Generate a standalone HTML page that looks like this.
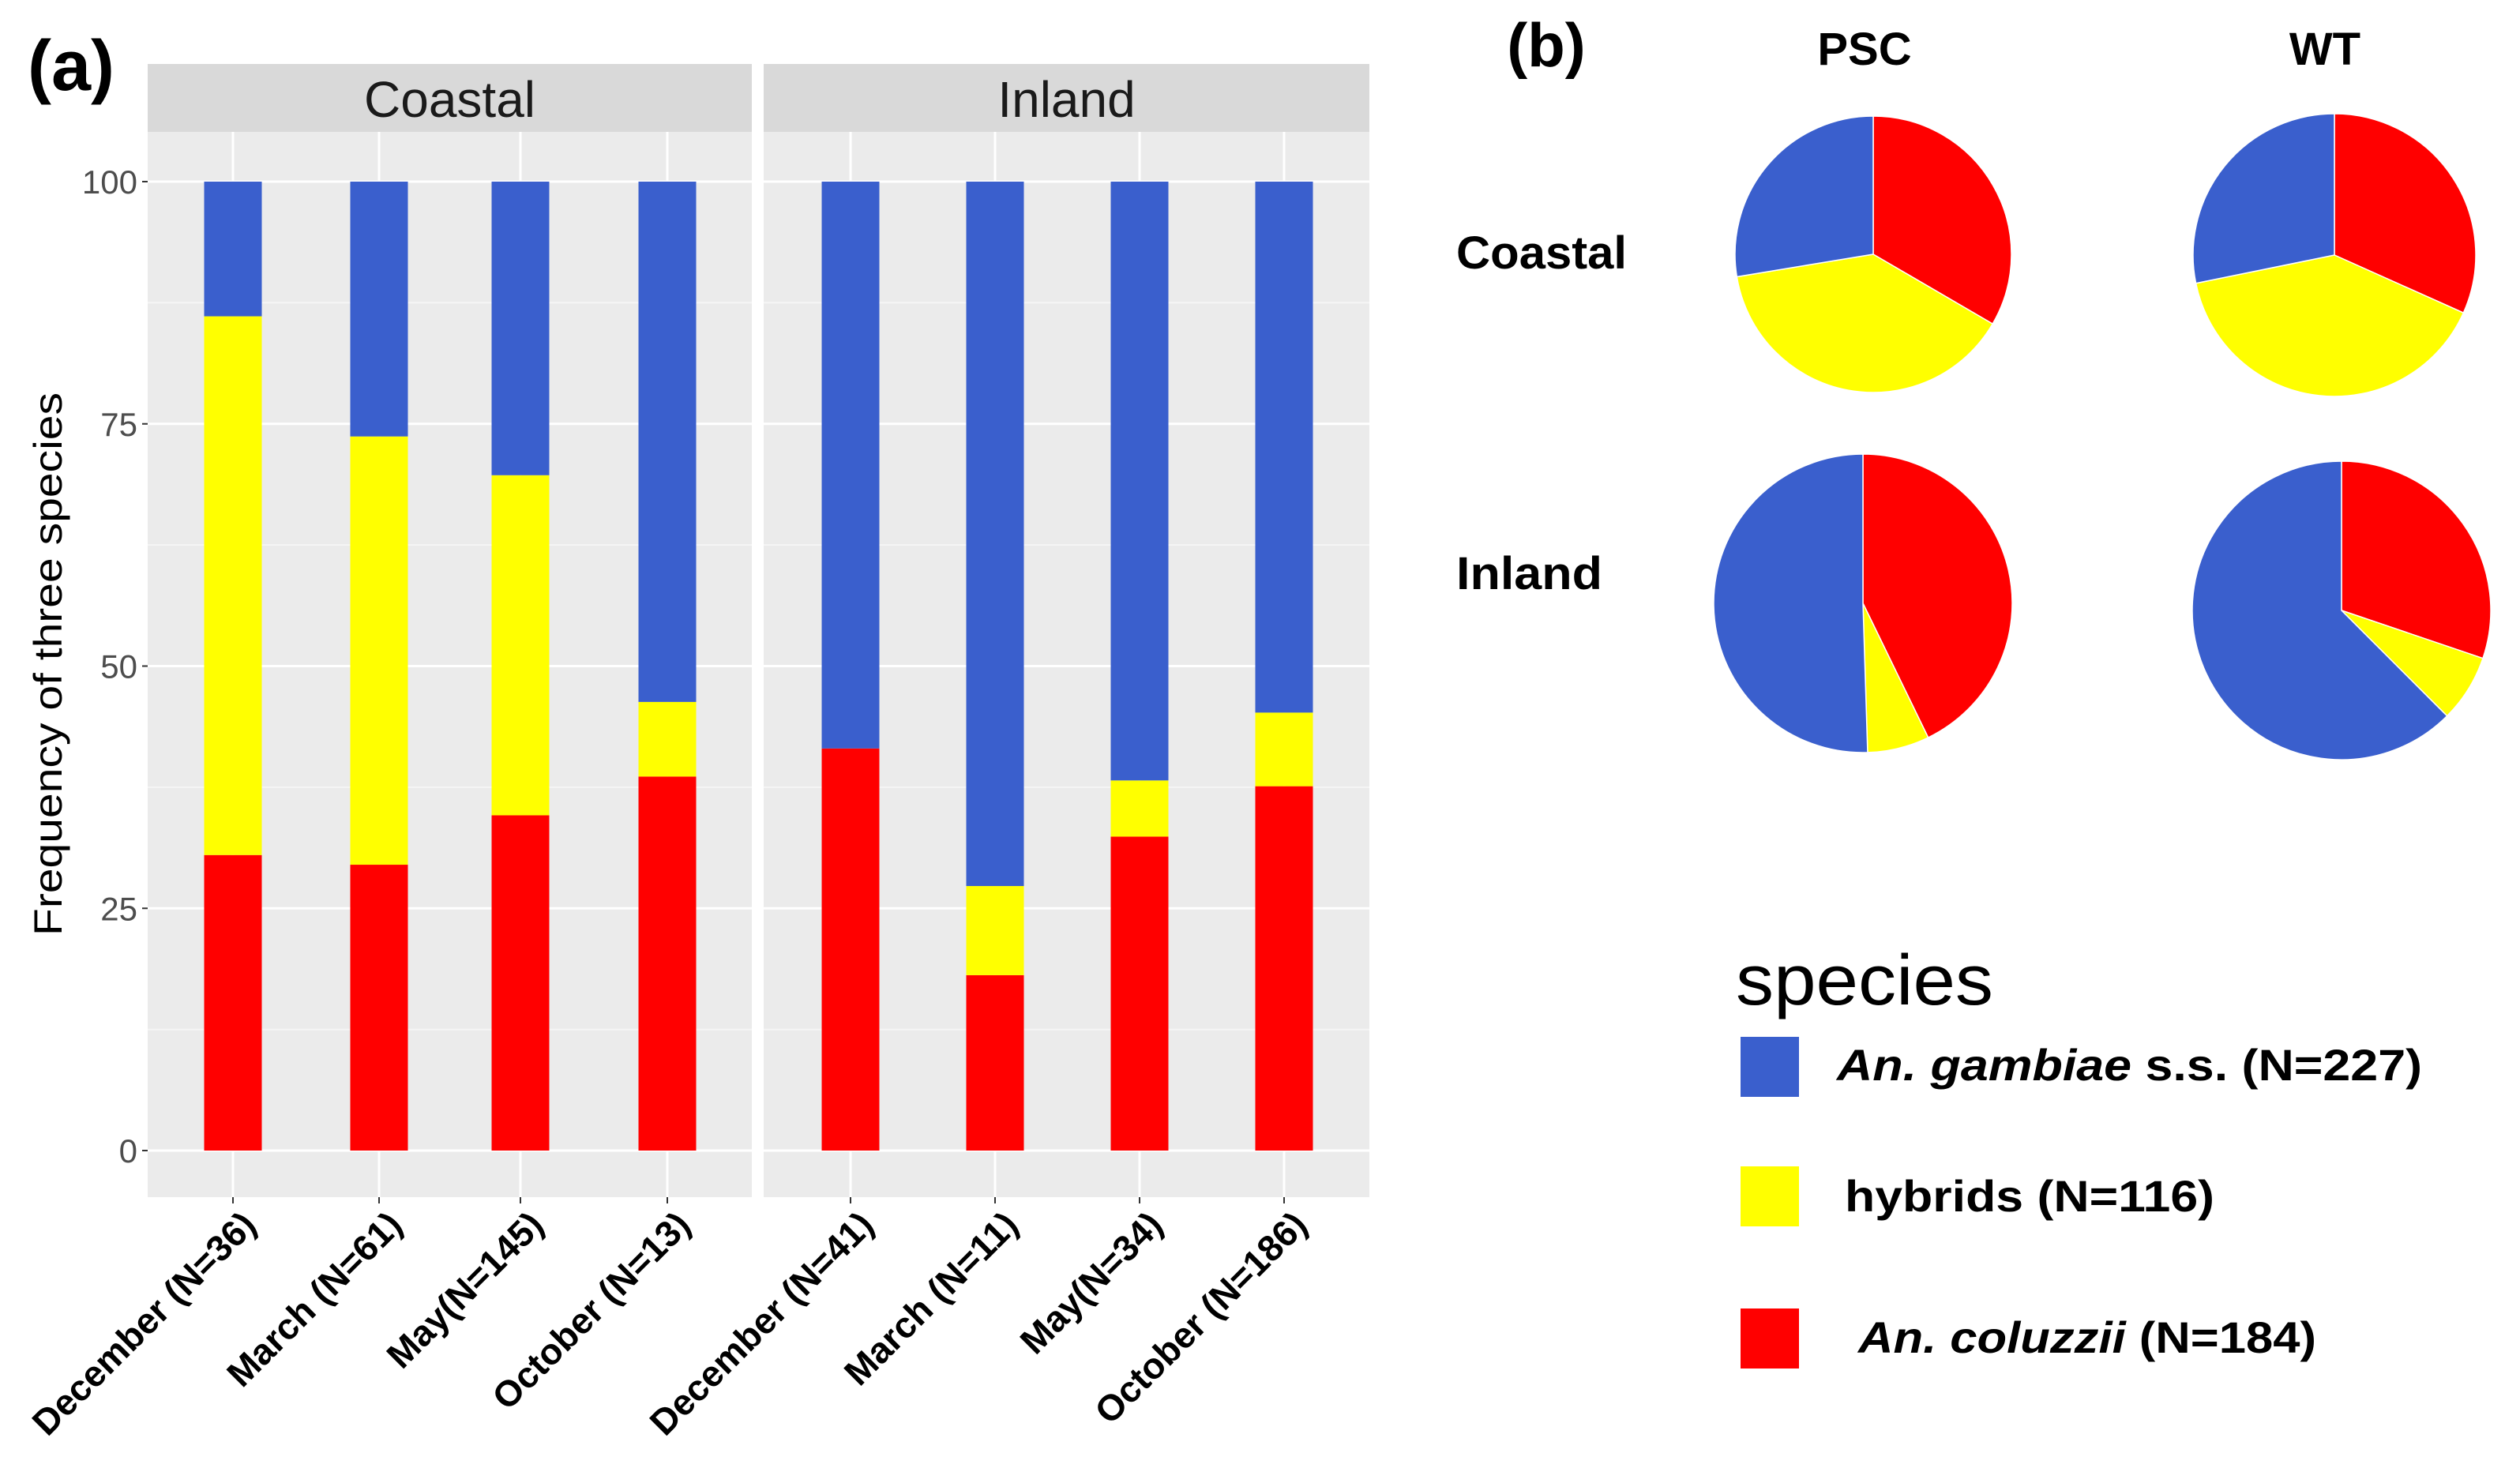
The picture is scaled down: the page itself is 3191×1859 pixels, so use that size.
<!DOCTYPE html>
<html><head><meta charset="utf-8"><style>
html,body{margin:0;padding:0;background:#fff;}
svg{display:block;font-family:"Liberation Sans",sans-serif;}
</style></head><body>
<svg id="fig" width="3191" height="1859" viewBox="0 0 3191 1859" xmlns="http://www.w3.org/2000/svg">
<g id="panelA"></g>
<g id="panelB"></g>
</svg>
<script>
const facets = ["Coastal", "Inland"];
const categories = ["December (N=36)", "March (N=61)", "May(N=145)", "October (N=13)", "December (N=41)", "March (N=11)", "May(N=34)", "October (N=186)"];
const coluzziiPct = [30.5, 29.5, 34.6, 38.6, 41.5, 18.1, 32.4, 37.6];
const hybridPct = [55.6, 44.2, 35.1, 7.7, 0, 9.2, 5.8, 7.6];
const gambiaePct = [13.9, 26.3, 30.3, 53.7, 58.5, 72.7, 61.8, 54.8];
const yTicks = [0, 25, 50, 75, 100];
const pieRows = ["Coastal", "Inland"];
const pieCols = ["PSC", "WT"];
const pieColuzzii = [33.4, 31.7, 42.8, 30.2];
const pieHybrid = [39.0, 40.1, 6.7, 7.3];
const pieGambiae = [27.6, 28.2, 50.5, 62.5];
const legendLabels = ["gambiae", "hybrids", "coluzzii"];

const NS = "http://www.w3.org/2000/svg";
const COL = {blue: "#3a5fcd", yellow: "#ffff00", red: "#ff0000"};
function mk(parent, tag, attrs, text) {
  const e = document.createElementNS(NS, tag);
  for (const k in attrs) e.setAttribute(k, attrs[k]);
  if (text !== undefined) e.textContent = text;
  parent.appendChild(e);
  return e;
}
const A = document.getElementById("panelA");
const B = document.getElementById("panelB");

const yTop = 230, yBot = 1457;
function yScale(v) { return yBot - (yBot - yTop) * v / 100; }
const panels = [{x0: 187, x1: 952, centers: [295, 480, 659, 845]}, {x0: 967, x1: 1734, centers: [1077, 1260, 1443, 1626]}];
function xScale(i) { return panels[Math.floor(i / 4)].centers[i % 4]; }
const barW = 73;

let t = mk(A, "text", {x: 35, y: 114, "font-size": 90, "font-weight": "bold", fill: "#000"}, "(a)");



panels.forEach((p, fi) => {
  const bg = mk(A, "rect", {x: p.x0, y: 167, width: p.x1 - p.x0, height: 1516 - 167, fill: "#ebebeb"});
  
  
  const st = mk(A, "rect", {x: p.x0, y: 81, width: p.x1 - p.x0, height: 86, fill: "#d9d9d9"});
  
  
  const stt = mk(A, "text", {x: (p.x0 + p.x1) / 2, y: 148, "font-size": 64, "text-anchor": "middle", fill: "#1a1a1a"}, facets[fi]);
  
  
  for (let k = 0; k < yTicks.length - 1; k++) {
    const v = (yTicks[k] + yTicks[k + 1]) / 2;
    const g = mk(A, "line", {x1: p.x0, x2: p.x1, y1: yScale(v), y2: yScale(v), stroke: "#f5f5f5", "stroke-width": 2});
    
    
  }
  yTicks.forEach(v => {
    const g = mk(A, "line", {x1: p.x0, x2: p.x1, y1: yScale(v), y2: yScale(v), stroke: "#fff", "stroke-width": 3});
    
    
  });
  p.centers.forEach((c, ci) => {
    const g = mk(A, "line", {x1: c, x2: c, y1: 167, y2: 1516, stroke: "#fff", "stroke-width": 3});
    
    
  });
});

yTicks.forEach(v => {
  const tk = mk(A, "line", {x1: 180, x2: 187, y1: yScale(v), y2: yScale(v), stroke: "#333", "stroke-width": 2});
  
  
  const tl = mk(A, "text", {x: 174, y: yScale(v) + 15, "font-size": 42, "text-anchor": "end", fill: "#4d4d4d"}, String(v));
  
  
});
const yt = mk(A, "text", {x: 0, y: 0, "font-size": 50, "text-anchor": "middle", fill: "#000", transform: "translate(78,841) rotate(-90)", textLength: 688, lengthAdjust: "spacingAndGlyphs"}, "Frequency of three species");



categories.forEach((cat, i) => {
  const cx = xScale(i);
  const segs = [[coluzziiPct[i], COL.red, 'coluzzii'], [hybridPct[i], COL.yellow, 'hybrids'], [gambiaePct[i], COL.blue, 'gambiae']];
  let base = 0;
  segs.forEach(s => {
    if (s[0] > 0) {
      const r = mk(A, "rect", {x: cx - barW / 2, y: yScale(base + s[0]), width: barW, height: yScale(base) - yScale(base + s[0]), fill: s[1]});
      
      
    }
    base += s[0];
  });
  const tk = mk(A, "line", {x1: cx, x2: cx, y1: 1516, y2: 1524, stroke: "#333", "stroke-width": 2});
  
  
  const lx = cx + 8, ly = 1530;
  const tl = mk(A, "text", {x: lx, y: ly, "font-size": 46, "font-weight": "bold", "text-anchor": "end", "dominant-baseline": "hanging", fill: "#000", transform: `rotate(-45 ${lx} ${ly})`}, cat);
  
  
});

t = mk(B, "text", {x: 1958, y: 84, "font-size": 78, "font-weight": "bold", "text-anchor": "middle", fill: "#000"}, "(b)");


const colX = [2361, 2944];
pieCols.forEach((c, i) => {
  const e = mk(B, "text", {x: colX[i], y: 82, "font-size": 58, "font-weight": "bold", "text-anchor": "middle", fill: "#000"}, c);
  
  
});
const rowY = [320, 726];
const rowW = [216, 185];
pieRows.forEach((r, i) => {
  const e = mk(B, "text", {x: 1844, y: rowY[i] + 20, "font-size": 58, "font-weight": "bold", fill: "#000", textLength: rowW[i], lengthAdjust: "spacingAndGlyphs"}, r);
  
  
});
const pieGeom = [{cx: 2372, cy: 322, r: 175}, {cx: 2956, cy: 323, r: 179}, {cx: 2359, cy: 764, r: 189}, {cx: 2965, cy: 773, r: 189}];
function pt(g, frac) { const a = frac * 2 * Math.PI; return [g.cx + g.r * Math.sin(a), g.cy - g.r * Math.cos(a)]; }
pieGeom.forEach((g, i) => {
  const vals = [[pieColuzzii[i], COL.red, 'coluzzii'], [pieHybrid[i], COL.yellow, 'hybrids'], [pieGambiae[i], COL.blue, 'gambiae']];
  const tot = vals.reduce((s, v) => s + v[0], 0);
  let acc = 0;
  vals.forEach(v => {
    const f0 = acc / tot, f1 = (acc + v[0]) / tot;
    const p0 = pt(g, f0), p1 = pt(g, f1);
    const large = (f1 - f0) > 0.5 ? 1 : 0;
    const s = mk(B, "path", {d: `M${g.cx},${g.cy} L${p0[0]},${p0[1]} A${g.r},${g.r} 0 ${large} 1 ${p1[0]},${p1[1]} Z`, fill: v[1], stroke: "#fff", "stroke-width": 1.5});
    
    
    acc += v[0];
  });
});

t = mk(B, "text", {x: 2198, y: 1272, "font-size": 90, fill: "#000", textLength: 326, lengthAdjust: "spacingAndGlyphs"}, "species");


const keys = [{y: 1313, c: COL.blue, tx: 2326, ty: 1368, w: 741}, {y: 1477, c: COL.yellow, tx: 2336, ty: 1534, w: 468}, {y: 1657, c: COL.red, tx: 2353, ty: 1713, w: 580}];
keys.forEach((k, i) => {
  const r = mk(B, "rect", {x: 2204, y: k.y, width: 74, height: 76, fill: k.c});
  
  
  const tx = mk(B, "text", {x: k.tx, y: k.ty, "font-size": 56, "font-weight": "bold", fill: "#000", textLength: k.w, lengthAdjust: "spacingAndGlyphs"});
  
  
  if (i === 0) {
    mk(tx, "tspan", {"font-style": "italic"}, "An. gambiae");
    mk(tx, "tspan", {}, " s.s. (N=227)");
  } else if (i === 1) {
    mk(tx, "tspan", {}, "hybrids (N=116)");
  } else {
    mk(tx, "tspan", {"font-style": "italic"}, "An. coluzzii");
    mk(tx, "tspan", {}, " (N=184)");
  }
});
</script>
</body></html>
